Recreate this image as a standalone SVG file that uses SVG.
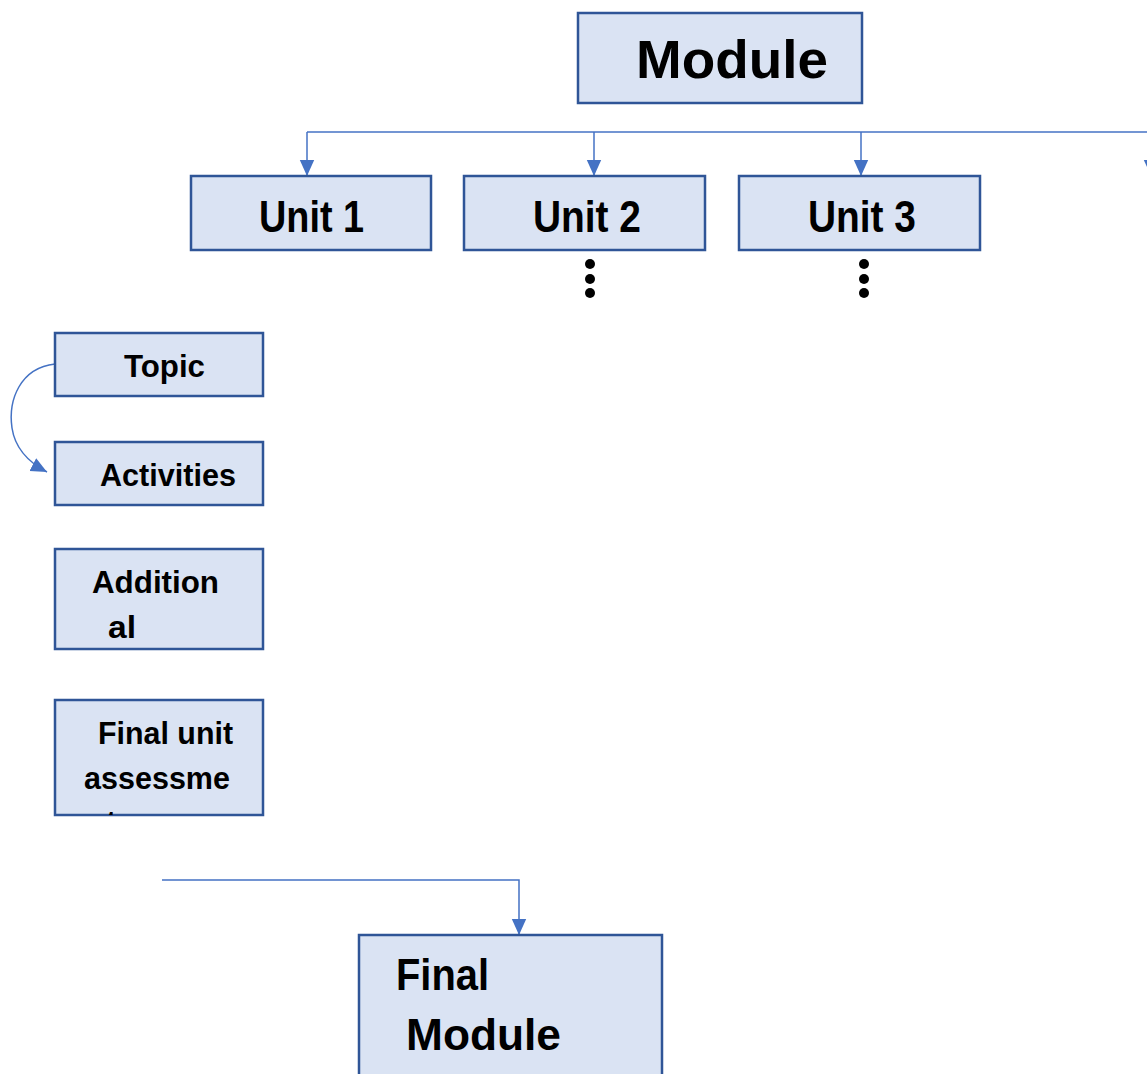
<svg xmlns="http://www.w3.org/2000/svg" width="1147" height="1074" viewBox="0 0 1147 1074">
<style>
.box{fill:#dae3f3;stroke:#2f5597;stroke-width:2.5}
.t{font-family:"Liberation Sans",Arial,sans-serif;font-weight:bold;fill:#000}
.c{fill:none;stroke:#4472c4;stroke-width:1.5}
.dot{fill:#000}
</style>
<defs>
<marker id="ah" viewBox="0 0 10 10" refX="10" refY="5" markerWidth="16" markerHeight="16" markerUnits="userSpaceOnUse" orient="auto">
<path d="M0,0.5 L10,5 L0,9.5 z" fill="#4472c4"/>
</marker>
<clipPath id="clipFU"><rect x="55" y="700" width="208" height="115"/></clipPath>
</defs>
<g id="connectors">
<path class="c" d="M307,132 H1147"/>
<path class="c" d="M307,132 V176" marker-end="url(#ah)"/>
<path class="c" d="M594,132 V176" marker-end="url(#ah)"/>
<path class="c" d="M861,132 V176" marker-end="url(#ah)"/>
<path class="c" d="M1151,132 V176" marker-end="url(#ah)"/>
<path class="c" d="M55,364 C20,368 8,400 12,428 C15,448 28,462 47,472" marker-end="url(#ah)"/>
<path class="c" d="M162,880 H519 V935" marker-end="url(#ah)"/>
</g>
<g id="module">
<rect class="box" x="578" y="13" width="284" height="90"/>
<text class="t" x="636" y="78" font-size="54" textLength="192" lengthAdjust="spacingAndGlyphs">Module</text>
</g>
<g id="unit1">
<rect class="box" x="191" y="176" width="240" height="74"/>
<text class="t" x="259" y="232" font-size="44" textLength="105" lengthAdjust="spacingAndGlyphs">Unit 1</text>
</g>
<g id="unit2">
<rect class="box" x="464" y="176" width="241" height="74"/>
<text class="t" x="533" y="232" font-size="44" textLength="108" lengthAdjust="spacingAndGlyphs">Unit 2</text>
<circle class="dot" cx="590" cy="264" r="5"/>
<circle class="dot" cx="590" cy="279" r="5"/>
<circle class="dot" cx="590" cy="293" r="5"/>
</g>
<g id="unit3">
<rect class="box" x="739" y="176" width="241" height="74"/>
<text class="t" x="808" y="232" font-size="44" textLength="108" lengthAdjust="spacingAndGlyphs">Unit 3</text>
<circle class="dot" cx="864" cy="264" r="5"/>
<circle class="dot" cx="864" cy="279" r="5"/>
<circle class="dot" cx="864" cy="293" r="5"/>
</g>
<g id="topic">
<rect class="box" x="55" y="333" width="208" height="63"/>
<text class="t" x="124" y="377" font-size="31" textLength="81" lengthAdjust="spacingAndGlyphs">Topic</text>
</g>
<g id="activities">
<rect class="box" x="55" y="442" width="208" height="63"/>
<text class="t" x="100" y="486" font-size="31" textLength="136" lengthAdjust="spacingAndGlyphs">Activities</text>
</g>
<g id="additional">
<rect class="box" x="55" y="549" width="208" height="100"/>
<text class="t" x="92" y="593" font-size="31" textLength="127" lengthAdjust="spacingAndGlyphs">Addition</text>
<text class="t" x="108" y="638" font-size="31" textLength="28" lengthAdjust="spacingAndGlyphs">al</text>
</g>
<g id="final-unit">
<rect class="box" x="55" y="700" width="208" height="115"/>
<text class="t" x="98" y="744" font-size="31" textLength="135" lengthAdjust="spacingAndGlyphs">Final unit</text>
<text class="t" x="84" y="789" font-size="31" textLength="146" lengthAdjust="spacingAndGlyphs">assessme</text>
<text class="t" x="87" y="833" font-size="31" clip-path="url(#clipFU)">nt</text>
</g>
<g id="final-module">
<rect class="box" x="359" y="935" width="303" height="145"/>
<text class="t" x="396" y="990" font-size="44" textLength="93" lengthAdjust="spacingAndGlyphs">Final</text>
<text class="t" x="406" y="1050" font-size="44" textLength="155" lengthAdjust="spacingAndGlyphs">Module</text>
</g>
</svg>
